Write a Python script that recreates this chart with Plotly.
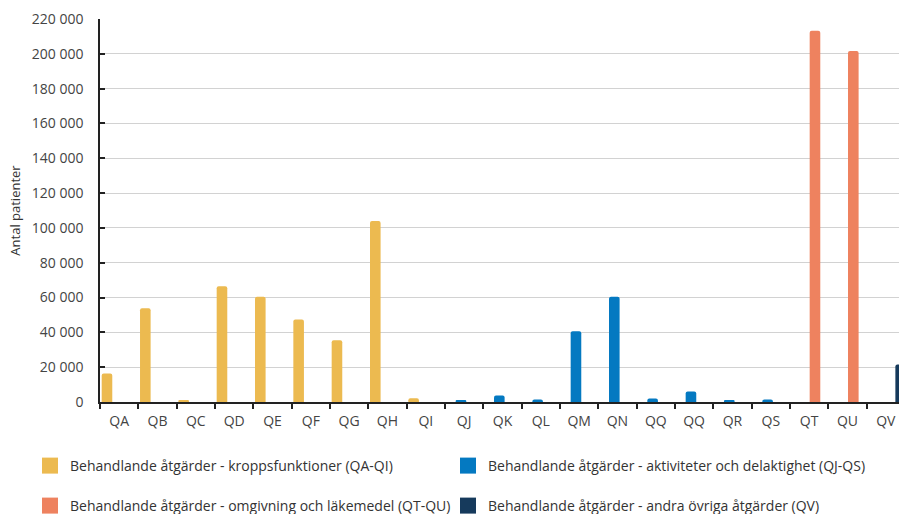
import plotly.graph_objects as go

# Categories (KVÅ chapter codes) shown along the x axis
codes = ["QA", "QB", "QC", "QD", "QE", "QF", "QG", "QH", "QI", "QJ", "QK",
         "QL", "QM", "QN", "QQ", "QQ", "QR", "QS", "QT", "QU", "QV"]

# Number of patients per code, one list per group of measures
kropp = [16300, 53900, 1000, 66500, 60400, 47400, 35500, 104000, 2200,
         None, None, None, None, None, None, None, None, None, None, None, None]
aktivitet = [None, None, None, None, None, None, None, None, None,
             900, 3700, 1500, 40600, 60400, 2000, 6100, 900, 1500, None, None, None]
omgivning = [None] * 18 + [213300, 201600, None]
ovriga = [None] * 20 + [21500]

series_names = [
    "Behandlande åtgärder - kroppsfunktioner (QA-QI)",
    "Behandlande åtgärder - aktiviteter och delaktighet (QJ-QS)",
    "Behandlande åtgärder - omgivning och läkemedel (QT-QU)",
    "Behandlande åtgärder - andra övriga åtgärder (QV)",
]
series_values = [kropp, aktivitet, omgivning, ovriga]
series_colors = ["#ECBA50", "#0479C1", "#EE825F", "#163A5C"]

# Each legend entry gets its own legend box: (legend id, x px, y px)
legend_slots = [("legend", 30, 466), ("legend2", 448, 466),
                ("legend3", 30, 506), ("legend4", 448, 506)]

# Bar slot geometry within one category (category units)
bar_width = 0.2765
slot_step = 0.2355
first_offset = -0.456

xpos = list(range(len(codes)))

fig = go.Figure()
for i, (name, vals, color) in enumerate(zip(series_names, series_values, series_colors)):
    fig.add_trace(go.Bar(
        x=xpos, y=vals, name=name, showlegend=False,
        width=bar_width, offset=first_offset + i * slot_step,
        marker=dict(color=color, line=dict(width=0), cornerradius=2),
        cliponaxis=True,
    ))
# Legend swatches
for name, color, slot in zip(series_names, series_colors, legend_slots):
    fig.add_trace(go.Scatter(
        x=[None], y=[None], mode="markers", name=name, legend=slot[0],
        marker=dict(symbol="square", size=16, color=color),
    ))

legends = {}
for key, px, py in legend_slots:
    legends[key] = dict(orientation="h", xref="container", yref="container",
                        x=px / 899, y=1 - py / 514, xanchor="left", yanchor="middle",
                        font=dict(size=14, color="#333333"),
                        bgcolor="rgba(0,0,0,0)")

fig.update_layout(
    width=899, height=514,
    margin=dict(l=100, r=0, t=19, b=112, autoexpand=False),
    paper_bgcolor="white", plot_bgcolor="white",
    barmode="overlay",
    separators=", ",
    font=dict(family="Open Sans", size=14, color="#444444"),
    **legends,
)

fig.update_xaxes(
    range=[-0.5, -0.5 + 799 / 38.33],
    tickmode="array", tickvals=xpos, ticktext=codes,
    ticks="", showgrid=False, ticklabelstandoff=5,
    showline=True, linecolor="#222222", linewidth=1.5,
    minor=dict(tickmode="array", tickvals=[i - 0.5 for i in range(len(codes) + 1)],
               ticks="outside", ticklen=5, tickcolor="#222222", tickwidth=1.5,
               showgrid=False),
    tickfont=dict(size=14, color="#444444"),
    zeroline=False, automargin=False,
)

fig.update_yaxes(
    range=[0, 220000], dtick=20000, tickformat=",",
    ticks="inside", ticklen=5, tickcolor="#222222", tickwidth=1.5,
    ticklabelstandoff=12,
    showline=True, linecolor="#222222", linewidth=1.5,
    showgrid=True, gridcolor="#d2d2d2", gridwidth=1,
    zeroline=False, automargin=False,
    tickfont=dict(size=14, color="#444444"),
    title=dict(text="Antal patienter", font=dict(size=13, color="#333333"), standoff=8),
)

fig.write_html("out.html")
